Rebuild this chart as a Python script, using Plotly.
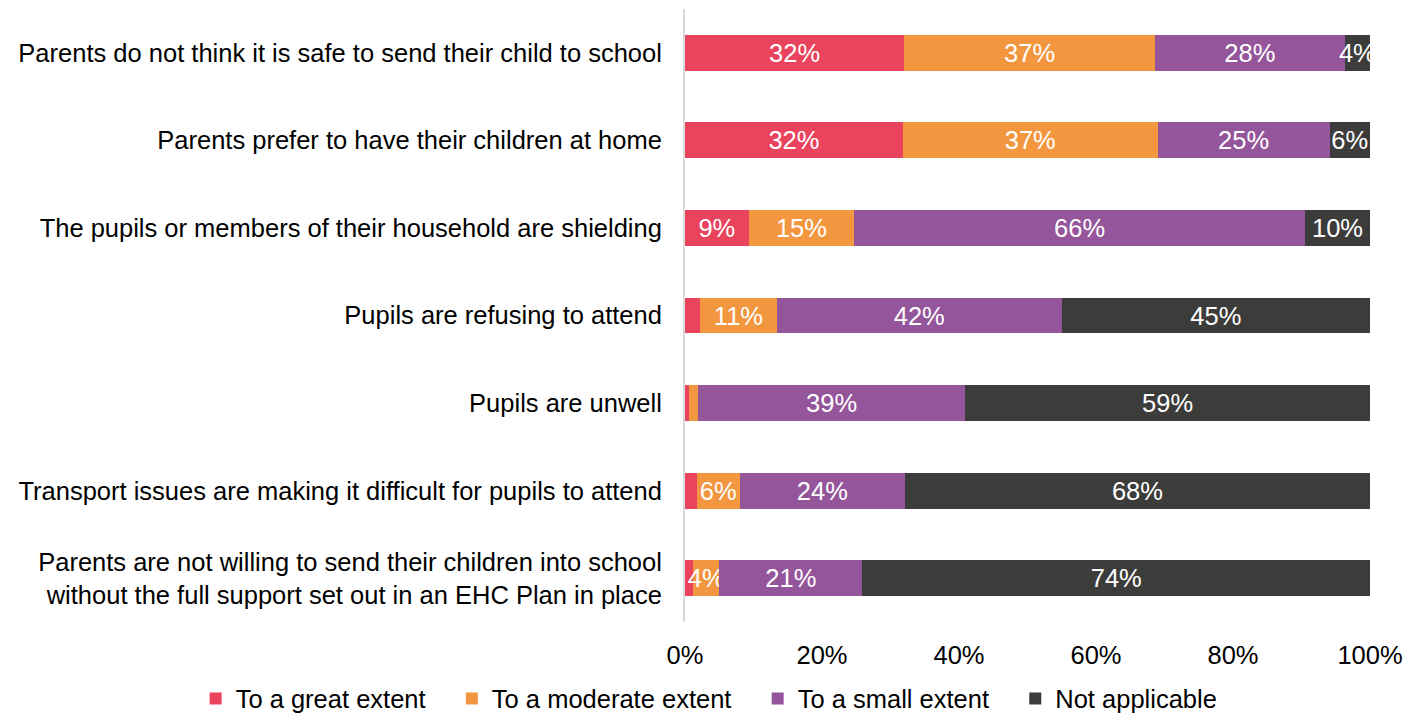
import plotly.graph_objects as go

categories = [
    "Parents do not think it is safe to send their child to school",
    "Parents prefer to have their children at home",
    "The pupils or members of their household are shielding",
    "Pupils are refusing to attend",
    "Pupils are unwell",
    "Transport issues are making it difficult for pupils to attend",
    "Parents are not willing to send their children into school<br>without the full support set out in an EHC Plan in place",
]
great = [32.0, 31.8, 9.3, 2.2, 0.6, 1.7, 1.2]
moderate = [36.6, 37.2, 15.4, 11.2, 1.3, 6.3, 3.8]
small = [27.7, 25.1, 65.8, 41.6, 39.0, 24.1, 20.9]
na = [3.7, 5.9, 9.5, 45.0, 59.1, 67.9, 74.1]

series_names = ["To a great extent", "To a moderate extent", "To a small extent", "Not applicable"]
series_values = [great, moderate, small, na]
colors = ["#E9435E", "#F39640", "#95559B", "#3C3C3B"]
tick_vals = [0, 20, 40, 60, 80, 100]
tick_text = ["0%", "20%", "40%", "60%", "80%", "100%"]

FONT = "Liberation Sans, Arial, sans-serif"
FS = 25.5
PAD = "\u00a0" * 3  # extra spacing between legend entries

fig = go.Figure()
for i, (name, vals, col) in enumerate(zip(series_names, series_values, colors)):
    fig.add_trace(go.Bar(
        y=categories, x=vals,
        name=name + (PAD if i < len(series_names) - 1 else ""),
        orientation="h",
        marker=dict(color=col, line=dict(width=0)),
        text=[f"{round(v)}%" if v >= 3.5 else "" for v in vals],
        textposition="inside", insidetextanchor="middle", textangle=0,
        constraintext="none",
        textfont=dict(color="white", size=FS, family=FONT),
        hoverinfo="skip",
    ))

fig.update_layout(
    barmode="stack", bargap=0.59,
    width=1419, height=716,
    margin=dict(l=685, r=49, t=9, b=94, autoexpand=False),
    paper_bgcolor="white", plot_bgcolor="white",
    font=dict(family=FONT, size=FS, color="#000000"),
    showlegend=True,
    legend=dict(orientation="h", xref="paper", x=-0.7144, xanchor="left",
                yref="paper", y=-0.087, yanchor="top",
                font=dict(size=FS, family=FONT, color="#000000"),
                traceorder="normal", itemwidth=30),
    xaxis=dict(range=[0, 100], tickvals=tick_vals, ticktext=tick_text,
               showgrid=False, zeroline=False, showline=False, ticks="",
               ticklabelstandoff=15, tickfont=dict(size=FS)),
    yaxis=dict(autorange="reversed", showgrid=False, zeroline=False,
               showline=True, linecolor="#D9D9D9", linewidth=2, ticks="",
               ticklabelstandoff=16, tickfont=dict(size=FS)),
)

fig.write_html("out.html")
